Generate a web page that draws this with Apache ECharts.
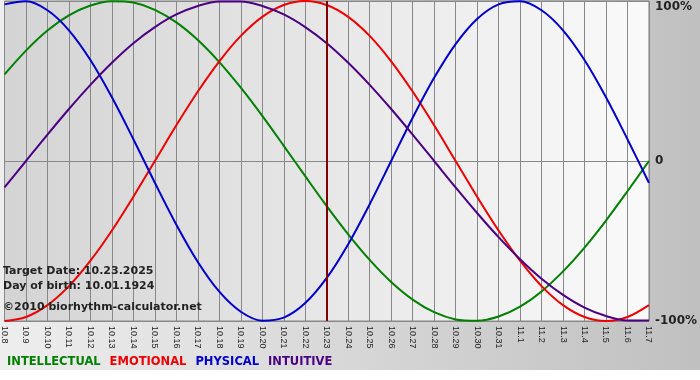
<!DOCTYPE html>
<html lang="en" style="height: 100%">
<head>
<meta charset="utf-8">
<title>Biorhythm chart</title>
</head>
<body style="height: 100%; margin: 0; background: #fff">
<div id="container" style="width: 700px; height: 380px"></div>

<script type="text/javascript" src="https://cdn.jsdelivr.net/npm/echarts/dist/echarts.min.js"></script>

<script type="text/javascript">

// dates shown on the x axis (month.day)
var dates = ['10.8', '10.9', '10.10', '10.11', '10.12', '10.13', '10.14', '10.15', '10.16', '10.17',
  '10.18', '10.19', '10.20', '10.21', '10.22', '10.23', '10.24', '10.25', '10.26', '10.27',
  '10.28', '10.29', '10.30', '10.31', '11.1', '11.2', '11.3', '11.4', '11.5', '11.6', '11.7'];

// cycle values in percent
var intellectual = [54.1, 69.0, 81.5, 91.0, 97.2, 99.9, 99.0, 94.5, 86.6, 75.6, 61.8, 45.8, 28.2, 9.5,
  -9.5, -28.2, -45.8, -61.8, -75.6, -86.6, -94.5, -99.0, -99.9, -97.2, -91.0, -81.5, -69.0, -54.1,
  -37.2, -18.9, 0];
var emotional = [-100, -97.5, -90.1, -78.2, -62.3, -43.4, -22.3, 0, 22.3, 43.4, 62.3, 78.2, 90.1, 97.5,
  100, 97.5, 90.1, 78.2, 62.3, 43.4, 22.3, 0, -22.3, -43.4, -62.3, -78.2, -90.1, -97.5, -100, -97.5, -90.1];
var physical = [97.9, 99.8, 94.2, 81.7, 63.1, 39.8, 13.6, -13.6, -39.8, -63.1, -81.7, -94.2, -99.8, -97.9,
  -88.8, -73.1, -52.0, -27.0, 0, 27.0, 52.0, 73.1, 88.8, 97.9, 99.8, 94.2, 81.7, 63.1, 39.8, 13.6, -13.6];
var intuitive = [-16.5, 0, 16.5, 32.5, 47.6, 61.4, 73.6, 83.7, 91.6, 96.9, 99.7, 99.7, 96.9, 91.6, 83.7,
  73.6, 61.4, 47.6, 32.5, 16.5, 0, -16.5, -32.5, -47.6, -61.4, -73.6, -83.7, -91.6, -96.9, -99.7, -99.7];

var targetDate = '10.23';
var seriesNames = ['INTELLECTUAL', 'EMOTIONAL', 'PHYSICAL', 'INTUITIVE'];
var seriesColors = ['#008000', '#ee0000', '#0000cc', '#4b0082'];
var yTicks = { '100': '100%', '0': '0', '-100': '-100%' };

var dom = document.getElementById('container');
var myChart = echarts.init(dom);

function line(name, values, idx) {
  return {
    name: name,
    type: 'line',
    data: values,
    smooth: 0.33,
    showSymbol: false,
    symbol: 'none',
    lineStyle: { color: seriesColors[idx], width: 2 },
    itemStyle: { color: seriesColors[idx] }
  };
}

var series = [
  line('INTELLECTUAL', intellectual, 0),
  line('EMOTIONAL', emotional, 1),
  line('PHYSICAL', physical, 2),
  line('INTUITIVE', intuitive, 3)
];

// vertical marker for the target date
series[0].markLine = {
  silent: true,
  symbol: 'none',
  label: { show: false },
  lineStyle: { color: '#800000', width: 2, type: 'solid' },
  data: [{ xAxis: targetDate }]
};

var infoFont = 'bold 11px "DejaVu Sans"';

var option = {
  animation: false,
  textStyle: { fontFamily: 'DejaVu Sans' },
  graphic: [
    {
      type: 'rect',
      z: -10,
      silent: true,
      shape: { x: 0, y: 0, width: 700, height: 370 },
      style: {
        fill: new echarts.graphic.LinearGradient(0, 0, 1, 0, [
          { offset: 0, color: '#eeeeee' },
          { offset: 1, color: '#c0c0c0' }
        ])
      }
    },
    {
      type: 'text', left: 3, top: 266, z: 10,
      style: { text: 'Target Date: 10.23.2025', fill: '#222', font: infoFont }
    },
    {
      type: 'text', left: 3, top: 281, z: 10,
      style: { text: 'Day of birth: 10.01.1924', fill: '#222', font: infoFont }
    },
    {
      type: 'text', left: 3, top: 302, z: 10,
      style: { text: '\u00a92010 biorhythm-calculator.net', fill: '#222', font: infoFont }
    }
  ],
  legend: {
    left: -3,
    top: 350,
    icon: 'none',
    itemWidth: 0,
    itemGap: 4,
    selectedMode: false,
    data: seriesNames.map(function (n, i) {
      return { name: n, textStyle: { color: seriesColors[i], fontWeight: 'bold', fontSize: 11.5, fontFamily: 'DejaVu Sans' } };
    })
  },
  grid: {
    left: 0,
    right: 48,
    top: 1,
    bottom: 59,
    show: true,
    borderColor: '#888',
    borderWidth: 1,
    backgroundColor: new echarts.graphic.LinearGradient(0, 0, 1, 0, [
      { offset: 0, color: '#d4d4d4' },
      { offset: 1, color: '#fafafa' }
    ])
  },
  xAxis: {
    type: 'category',
    data: dates,
    boundaryGap: false,
    axisLine: { lineStyle: { color: '#888', width: 1 } },
    axisTick: { show: true, interval: 0, length: 3, lineStyle: { color: '#888' } },
    axisLabel: {
      interval: 0,
      rotate: -90,
      margin: 5,
      color: '#222',
      fontSize: 9,
      fontFamily: 'Liberation Sans'
    },
    splitLine: { show: true, interval: 0, lineStyle: { color: '#888', width: 1 } }
  },
  yAxis: {
    type: 'value',
    position: 'right',
    min: -100,
    max: 100,
    interval: 100,
    axisLine: { show: false },
    axisTick: { show: false },
    axisLabel: {
      margin: 6,
      color: '#222',
      fontWeight: 'bold',
      fontSize: 12,
      fontFamily: 'DejaVu Sans',
      verticalAlignMaxLabel: 'top',
      formatter: function (v) { return yTicks[String(v)]; }
    },
    splitLine: { show: true, lineStyle: { color: '#888', width: 1 } }
  },
  series: series
};

if (option && typeof option === 'object') {
  myChart.setOption(option);
}

window.addEventListener('resize', myChart.resize);
</script>
</body>
</html>
